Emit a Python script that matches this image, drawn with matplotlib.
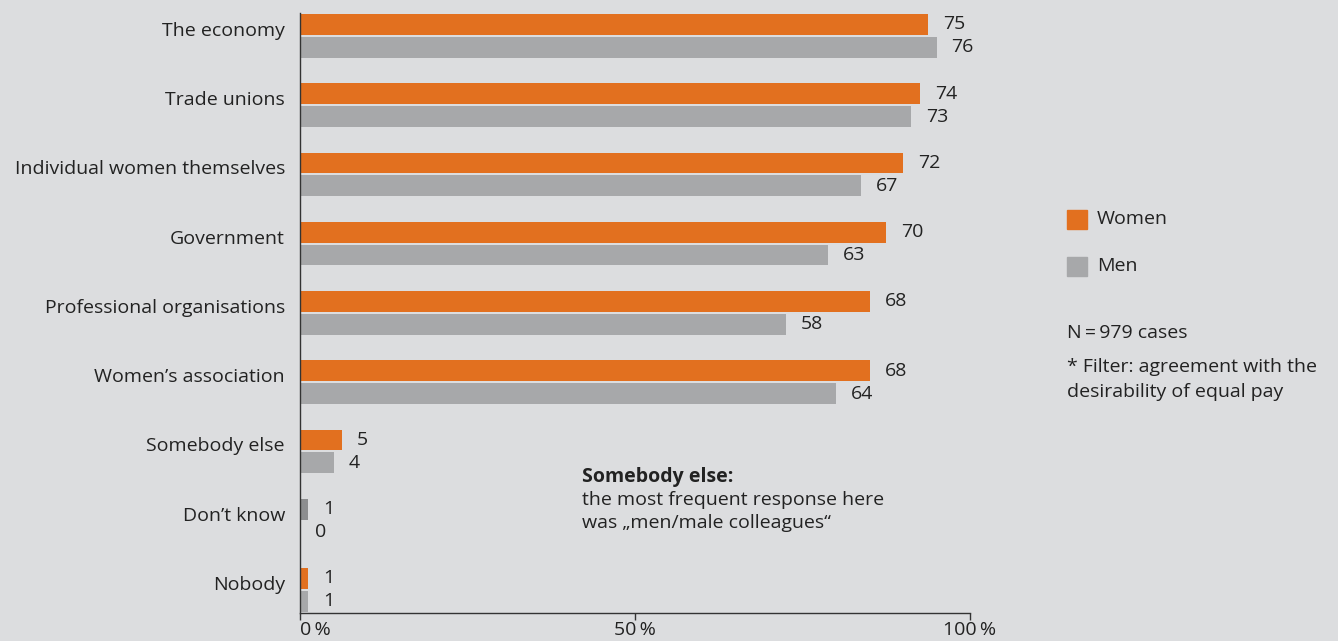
import matplotlib
matplotlib.use("Agg")
import matplotlib.pyplot as plt
import matplotlib.transforms as mtransforms

# data
categories = ["The economy", "Trade unions", "Individual women themselves", "Government",
              "Professional organisations", "Women\u2019s association", "Somebody else",
              "Don\u2019t know", "Nobody"]
women = [75, 74, 72, 70, 68, 68, 5, 1, 1]
men = [76, 73, 67, 63, 58, 64, 4, 0, 1]
tick_values = [0, 40, 80]
tick_labels = ["0\u2009%", "50\u2009%", "100\u2009%"]

bg = "#dcdddf"
orange = "#e2701f"
grey = "#a7a8aa"
dark_grey = "#8c8d8f"
txt = "#222222"

plt.rcParams["font.family"] = ["Open Sans", "DejaVu Sans"]
plt.rcParams["font.size"] = 14

fig = plt.figure(figsize=(13.38, 6.41), dpi=100, facecolor=bg)
W, H = 1338, 641
ax = fig.add_axes([300 / W, (H - 612.7) / H, 670 / W, (612.7 - 13) / H])
ax.set_facecolor(bg)

n = len(categories)
ys = [n - 1 - i for i in range(n)]
h = 0.30
off = 0.165

# one odd bar in the original: the "Don't know" top bar is dark grey
wcols = [orange] * n
wcols[categories.index("Don\u2019t know")] = dark_grey

ax.barh([y + off for y in ys], women, height=h, color=wcols, linewidth=0)
ax.barh([y - off for y in ys], men, height=h, color=grey, linewidth=0)

lab_off = mtransforms.offset_copy(ax.transData, fig=fig, x=15, y=0, units="dots")
for y, w, m in zip(ys, women, men):
    ax.text(w, y + off, str(w), transform=lab_off, ha="left", va="center", color=txt)
    ax.text(m, y - off, str(m), transform=lab_off, ha="left", va="center", color=txt)

cat_tr = mtransforms.offset_copy(ax.transData, fig=fig, x=-15, y=5, units="dots")
for y, c in zip(ys, categories):
    ax.text(0, y, c, transform=cat_tr, ha="right", va="center", color=txt)

ax.set_xlim(0, 80)
ax.set_ylim(-0.33, n - 1 + 0.33)
ax.set_yticks([])
ax.set_xticks(tick_values)
ax.set_xticklabels(tick_labels, color=txt)
ax.get_xticklabels()[0].set_ha("left")
ax.tick_params(axis="x", direction="out", length=5, width=1, color="#333333", pad=1)
for s in ["top", "right"]:
    ax.spines[s].set_visible(False)
for s in ["left", "bottom"]:
    ax.spines[s].set_color("#333333")
    ax.spines[s].set_linewidth(1)

# legend and notes, in figure pixels
def fx(x):
    return x / W

def fy(y):
    return (H - y) / H

fig.patches.append(plt.Rectangle((fx(1067), fy(229)), 20 / W, 19 / H, color=orange,
                                 transform=fig.transFigure))
fig.patches.append(plt.Rectangle((fx(1067), fy(276)), 20 / W, 19 / H, color=grey,
                                 transform=fig.transFigure))
fig.text(fx(1097), fy(219), "Women", ha="left", va="center", color=txt)
fig.text(fx(1097), fy(266), "Men", ha="left", va="center", color=txt)
fig.text(fx(1067), fy(333), "N\u2009=\u2009979 cases", ha="left", va="center", color=txt)
fig.text(fx(1067), fy(367), "* Filter: agreement with the", ha="left", va="center", color=txt)
fig.text(fx(1067), fy(392), "desirability of equal pay", ha="left", va="center", color=txt)

fig.text(fx(582), fy(477), "Somebody else:", ha="left", va="center", color=txt, fontweight="bold")
fig.text(fx(582), fy(500), "the most frequent response here", ha="left", va="center", color=txt)
fig.text(fx(582), fy(523), "was \u201emen/male colleagues\u201c", ha="left", va="center", color=txt)

fig.savefig("out.png", dpi=100, facecolor=bg)
